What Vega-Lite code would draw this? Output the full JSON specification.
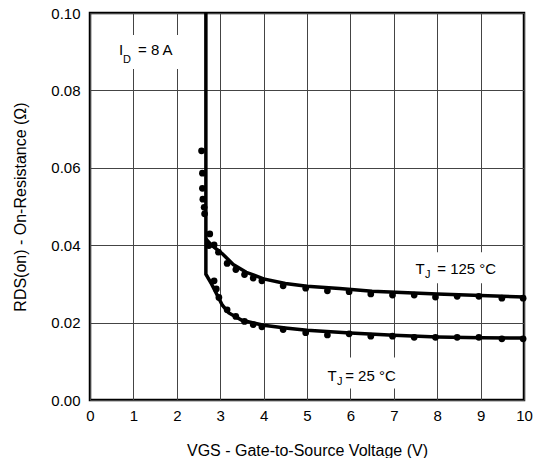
{
  "$schema": "https://vega.github.io/schema/vega-lite/v6.json",
  "width": 434,
  "height": 387,
  "padding": {"left": 12, "top": 6, "right": 5, "bottom": 0},
  "config": {
    "font": "Liberation Sans",
    "view": {"stroke": "black", "strokeWidth": 2.5},
    "axis": {
      "grid": true,
      "gridColor": "#444",
      "gridWidth": 1,
      "gridOpacity": 1,
      "domain": false,
      "ticks": false,
      "labelFont": "Liberation Sans",
      "labelFontSize": 15,
      "labelColor": "black",
      "labelFlush": false,
      "labelOverlap": false,
      "titleFont": "Liberation Sans",
      "titleFontSize": 16,
      "titleFontWeight": "normal",
      "titleColor": "black"
    }
  },
  "datasets": {
    "lines": [
      {"series": "25", "i": 1, "vgs": 2.67, "r": 0.100},
      {"series": "25", "i": 2, "vgs": 2.67, "r": 0.0325},
      {"series": "25", "i": 3, "vgs": 2.8, "r": 0.0300},
      {"series": "25", "i": 4, "vgs": 3.05, "r": 0.0245},
      {"series": "25", "i": 5, "vgs": 3.2, "r": 0.0225},
      {"series": "25", "i": 6, "vgs": 3.5, "r": 0.0206},
      {"series": "25", "i": 7, "vgs": 4.0, "r": 0.0193},
      {"series": "25", "i": 8, "vgs": 4.5, "r": 0.0186},
      {"series": "25", "i": 9, "vgs": 5.0, "r": 0.0180},
      {"series": "25", "i": 10, "vgs": 6.0, "r": 0.0173},
      {"series": "25", "i": 11, "vgs": 7.0, "r": 0.0167},
      {"series": "25", "i": 12, "vgs": 8.0, "r": 0.0163},
      {"series": "25", "i": 13, "vgs": 9.0, "r": 0.0161},
      {"series": "25", "i": 14, "vgs": 10.0, "r": 0.0160},
      {"series": "125", "i": 1, "vgs": 2.67, "r": 0.0416},
      {"series": "125", "i": 2, "vgs": 2.8, "r": 0.0400},
      {"series": "125", "i": 3, "vgs": 3.05, "r": 0.0378},
      {"series": "125", "i": 4, "vgs": 3.3, "r": 0.0350},
      {"series": "125", "i": 5, "vgs": 3.6, "r": 0.0330},
      {"series": "125", "i": 6, "vgs": 4.0, "r": 0.0313},
      {"series": "125", "i": 7, "vgs": 4.5, "r": 0.0301},
      {"series": "125", "i": 8, "vgs": 5.0, "r": 0.0294},
      {"series": "125", "i": 9, "vgs": 5.75, "r": 0.0288},
      {"series": "125", "i": 10, "vgs": 6.5, "r": 0.0281},
      {"series": "125", "i": 11, "vgs": 8.0, "r": 0.0274},
      {"series": "125", "i": 12, "vgs": 9.0, "r": 0.0270},
      {"series": "125", "i": 13, "vgs": 10.0, "r": 0.0266}
    ],
    "dots": [
      {"series": "25", "vgs": 2.57, "r": 0.0644},
      {"series": "25", "vgs": 2.59, "r": 0.0586},
      {"series": "25", "vgs": 2.59, "r": 0.0547},
      {"series": "25", "vgs": 2.60, "r": 0.0519},
      {"series": "25", "vgs": 2.63, "r": 0.0498},
      {"series": "25", "vgs": 2.64, "r": 0.0481},
      {"series": "25", "vgs": 2.86, "r": 0.0308},
      {"series": "25", "vgs": 2.91, "r": 0.0287},
      {"series": "25", "vgs": 2.97, "r": 0.0265},
      {"series": "25", "vgs": 3.16, "r": 0.0233},
      {"series": "25", "vgs": 3.36, "r": 0.0216},
      {"series": "25", "vgs": 3.56, "r": 0.0203},
      {"series": "25", "vgs": 3.76, "r": 0.0195},
      {"series": "25", "vgs": 3.96, "r": 0.0189},
      {"series": "25", "vgs": 4.45, "r": 0.0182},
      {"series": "25", "vgs": 4.97, "r": 0.0174},
      {"series": "25", "vgs": 5.47, "r": 0.0168},
      {"series": "25", "vgs": 5.97, "r": 0.0171},
      {"series": "25", "vgs": 6.47, "r": 0.0165},
      {"series": "25", "vgs": 6.97, "r": 0.0165},
      {"series": "25", "vgs": 7.47, "r": 0.0162},
      {"series": "25", "vgs": 7.96, "r": 0.0162},
      {"series": "25", "vgs": 8.46, "r": 0.0162},
      {"series": "25", "vgs": 8.96, "r": 0.0162},
      {"series": "25", "vgs": 9.49, "r": 0.0158},
      {"series": "25", "vgs": 9.98, "r": 0.0158},
      {"series": "125", "vgs": 2.76, "r": 0.0429},
      {"series": "125", "vgs": 2.74, "r": 0.0399},
      {"series": "125", "vgs": 2.86, "r": 0.0401},
      {"series": "125", "vgs": 2.96, "r": 0.0382},
      {"series": "125", "vgs": 3.16, "r": 0.0353},
      {"series": "125", "vgs": 3.36, "r": 0.0337},
      {"series": "125", "vgs": 3.56, "r": 0.0324},
      {"series": "125", "vgs": 3.76, "r": 0.0315},
      {"series": "125", "vgs": 3.96, "r": 0.0308},
      {"series": "125", "vgs": 4.45, "r": 0.0295},
      {"series": "125", "vgs": 4.97, "r": 0.0289},
      {"series": "125", "vgs": 5.47, "r": 0.0282},
      {"series": "125", "vgs": 5.97, "r": 0.0280},
      {"series": "125", "vgs": 6.47, "r": 0.0274},
      {"series": "125", "vgs": 6.97, "r": 0.0271},
      {"series": "125", "vgs": 7.47, "r": 0.0271},
      {"series": "125", "vgs": 7.96, "r": 0.0266},
      {"series": "125", "vgs": 8.46, "r": 0.0268},
      {"series": "125", "vgs": 8.96, "r": 0.0268},
      {"series": "125", "vgs": 9.49, "r": 0.0263},
      {"series": "125", "vgs": 9.98, "r": 0.0263}
    ]
  },
  "layer": [
    {
      "data": {"name": "lines"},
      "mark": {"type": "line", "color": "black", "strokeWidth": 3.5},
      "encoding": {
        "x": {
          "field": "vgs", "type": "quantitative",
          "scale": {"domain": [0, 10], "nice": false},
          "axis": {"values": [0,1,2,3,4,5,6,7,8,9,10], "format": "d", "title": "VGS - Gate-to-Source Voltage (V)", "labelPadding": 8, "titlePadding": 19}
        },
        "y": {
          "field": "r", "type": "quantitative",
          "scale": {"domain": [0, 0.1], "nice": false},
          "axis": {"values": [0, 0.02, 0.04, 0.06, 0.08, 0.1], "format": ".2f", "title": "RDS(on) - On-Resistance (Ω)", "labelPadding": 10, "titlePadding": 22}
        },
        "detail": {"field": "series"},
        "order": {"field": "i"}
      }
    },
    {
      "data": {"name": "dots"},
      "mark": {"type": "point", "filled": true, "color": "black", "opacity": 1, "size": 45},
      "encoding": {
        "x": {"field": "vgs", "type": "quantitative"},
        "y": {"field": "r", "type": "quantitative"}
      }
    },
    {
      "data": {"values": [{}]},
      "layer": [
        {"mark": {"type": "rect", "color": "white"}, "encoding": {"x": {"datum": 0.48}, "x2": {"datum": 2.17}, "y": {"datum": 0.0943}, "y2": {"datum": 0.0855}}},
        {"mark": {"type": "rect", "color": "white"}, "encoding": {"x": {"datum": 7.35}, "x2": {"datum": 9.6}, "y": {"datum": 0.0382}, "y2": {"datum": 0.0302}}},
        {"mark": {"type": "rect", "color": "white"}, "encoding": {"x": {"datum": 5.3}, "x2": {"datum": 7.24}, "y": {"datum": 0.0110}, "y2": {"datum": 0.0030}}},
        {"mark": {"type": "text", "text": "I", "fontSize": 15, "align": "left", "baseline": "alphabetic", "color": "black"}, "encoding": {"x": {"datum": 0.668}, "y": {"datum": 0.0891}}},
        {"mark": {"type": "text", "text": "D", "fontSize": 11, "align": "left", "baseline": "alphabetic", "color": "black"}, "encoding": {"x": {"datum": 0.76}, "y": {"datum": 0.0871}}},
        {"mark": {"type": "text", "text": "= 8 A", "fontSize": 15, "align": "left", "baseline": "alphabetic", "color": "black"}, "encoding": {"x": {"datum": 1.106}, "y": {"datum": 0.0891}}},
        {"mark": {"type": "text", "text": "T", "fontSize": 15, "align": "left", "baseline": "alphabetic", "color": "black"}, "encoding": {"x": {"datum": 7.5}, "y": {"datum": 0.0326}}},
        {"mark": {"type": "text", "text": "J", "fontSize": 11, "align": "left", "baseline": "alphabetic", "color": "black"}, "encoding": {"x": {"datum": 7.72}, "y": {"datum": 0.0314}}},
        {"mark": {"type": "text", "text": "= 125 °C", "fontSize": 15, "align": "left", "baseline": "alphabetic", "color": "black"}, "encoding": {"x": {"datum": 8.0}, "y": {"datum": 0.0326}}},
        {"mark": {"type": "text", "text": "T", "fontSize": 15, "align": "left", "baseline": "alphabetic", "color": "black"}, "encoding": {"x": {"datum": 5.47}, "y": {"datum": 0.0050}}},
        {"mark": {"type": "text", "text": "J", "fontSize": 11, "align": "left", "baseline": "alphabetic", "color": "black"}, "encoding": {"x": {"datum": 5.69}, "y": {"datum": 0.0038}}},
        {"mark": {"type": "text", "text": "= 25 °C", "fontSize": 15, "align": "left", "baseline": "alphabetic", "color": "black"}, "encoding": {"x": {"datum": 5.88}, "y": {"datum": 0.0050}}}
      ]
    }
  ]
}
